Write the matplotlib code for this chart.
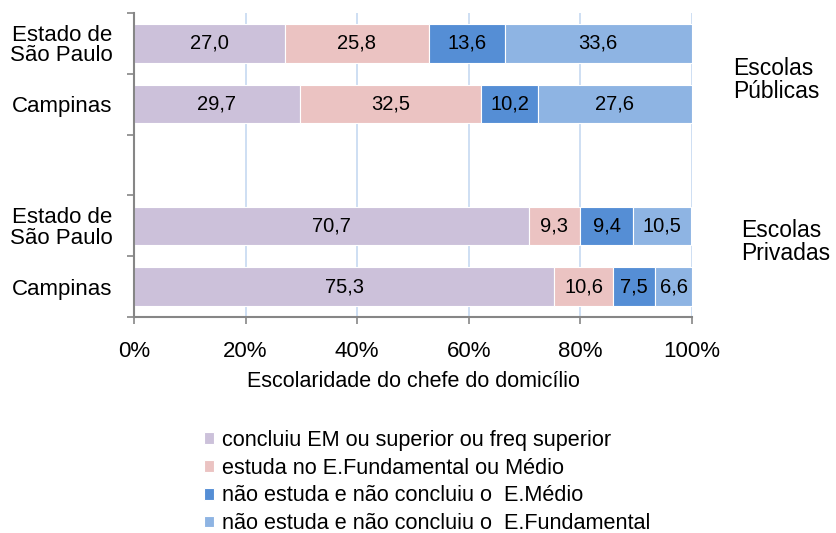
import matplotlib.pyplot as plt
import numpy as np

plt.rcParams['font.family'] = ['Liberation Sans', 'DejaVu Sans']

# categorias (de cima para baixo), com uma linha vazia separando os grupos
rotulos = ['Estado de\nSão Paulo', 'Campinas', '', 'Estado de\nSão Paulo', 'Campinas']
series = ['concluiu EM ou superior ou freq superior',
          'estuda no E.Fundamental ou Médio',
          'não estuda e não concluiu o  E.Médio',
          'não estuda e não concluiu o  E.Fundamental']
concluiu = [27.0, 29.7, None, 70.7, 75.3]
estuda = [25.8, 32.5, None, 9.3, 10.6]
nao_medio = [13.6, 10.2, None, 9.4, 7.5]
nao_fund = [33.6, 27.6, None, 10.5, 6.6]
cores = ['#ccc1da', '#ebc3c2', '#558ed5', '#8eb4e3']
xticks = [0, 20, 40, 60, 80, 100]

fig = plt.figure(figsize=(8.37, 5.33), dpi=100)
ax = fig.add_axes([134 / 837, 1 - 317 / 533, 558 / 837, 304 / 533])

y = np.arange(len(rotulos))[::-1]
esquerda = np.zeros(len(rotulos))
for nome, vals, cor in zip(series, [concluiu, estuda, nao_medio, nao_fund], cores):
    v = np.array([np.nan if a is None else a for a in vals])
    ax.barh(y, np.nan_to_num(v), left=esquerda, height=0.63, color=cor,
            edgecolor='white', linewidth=0.8, label=nome, zorder=2)
    for yi, l, w in zip(y, esquerda, v):
        if not np.isnan(w):
            ax.text(l + w / 2, yi, f'{w:.1f}'.replace('.', ','), ha='center',
                    va='center', fontsize=14.5, color='black', zorder=3)
    esquerda += np.nan_to_num(v)

ax.set_xlim(0, 100)
ax.set_ylim(-0.5, len(rotulos) - 0.5)
ax.set_xticks(xticks)
ax.set_xticklabels([f'{t}%' for t in xticks], fontsize=16)
ax.set_yticks(y)
ax.set_yticklabels(rotulos, fontsize=16, linespacing=0.95)
ax.set_yticks(np.arange(-0.5, len(rotulos)), minor=True)
ax.tick_params(axis='y', which='major', length=0, pad=52)
ax.tick_params(axis='y', which='minor', length=5, color='#868686', width=1.2)
ax.tick_params(axis='x', length=5, color='#868686', width=1.2, pad=12)
for t in ax.get_yticklabels():
    t.set_horizontalalignment('center')

ax.grid(axis='x', color='#c6d9f1', linewidth=1.2, zorder=0)
ax.set_axisbelow(True)
for s in ['top', 'right']:
    ax.spines[s].set_visible(False)
for s in ['left', 'bottom']:
    ax.spines[s].set_color('#868686')
    ax.spines[s].set_linewidth(1.5)

ax.set_xlabel('Escolaridade do chefe do domicílio', fontsize=15.5, labelpad=7)

fig.text(733 / 837, 1 - 80 / 533, 'Escolas\nPúblicas', fontsize=16.5,
         ha='left', va='center', linespacing=1.05)
fig.text(741 / 837, 1 - 242 / 533, 'Escolas\nPrivadas', fontsize=16.5,
         ha='left', va='center', linespacing=1.05)

fig.legend(loc='upper left', bbox_to_anchor=(204 / 837, 1 - 430 / 533),
           frameon=False, fontsize=15.6, handlelength=0.46, handleheight=0.46,
           handletextpad=0.38, labelspacing=0.31, borderpad=0, borderaxespad=0)

fig.savefig('out.png', dpi=100)
